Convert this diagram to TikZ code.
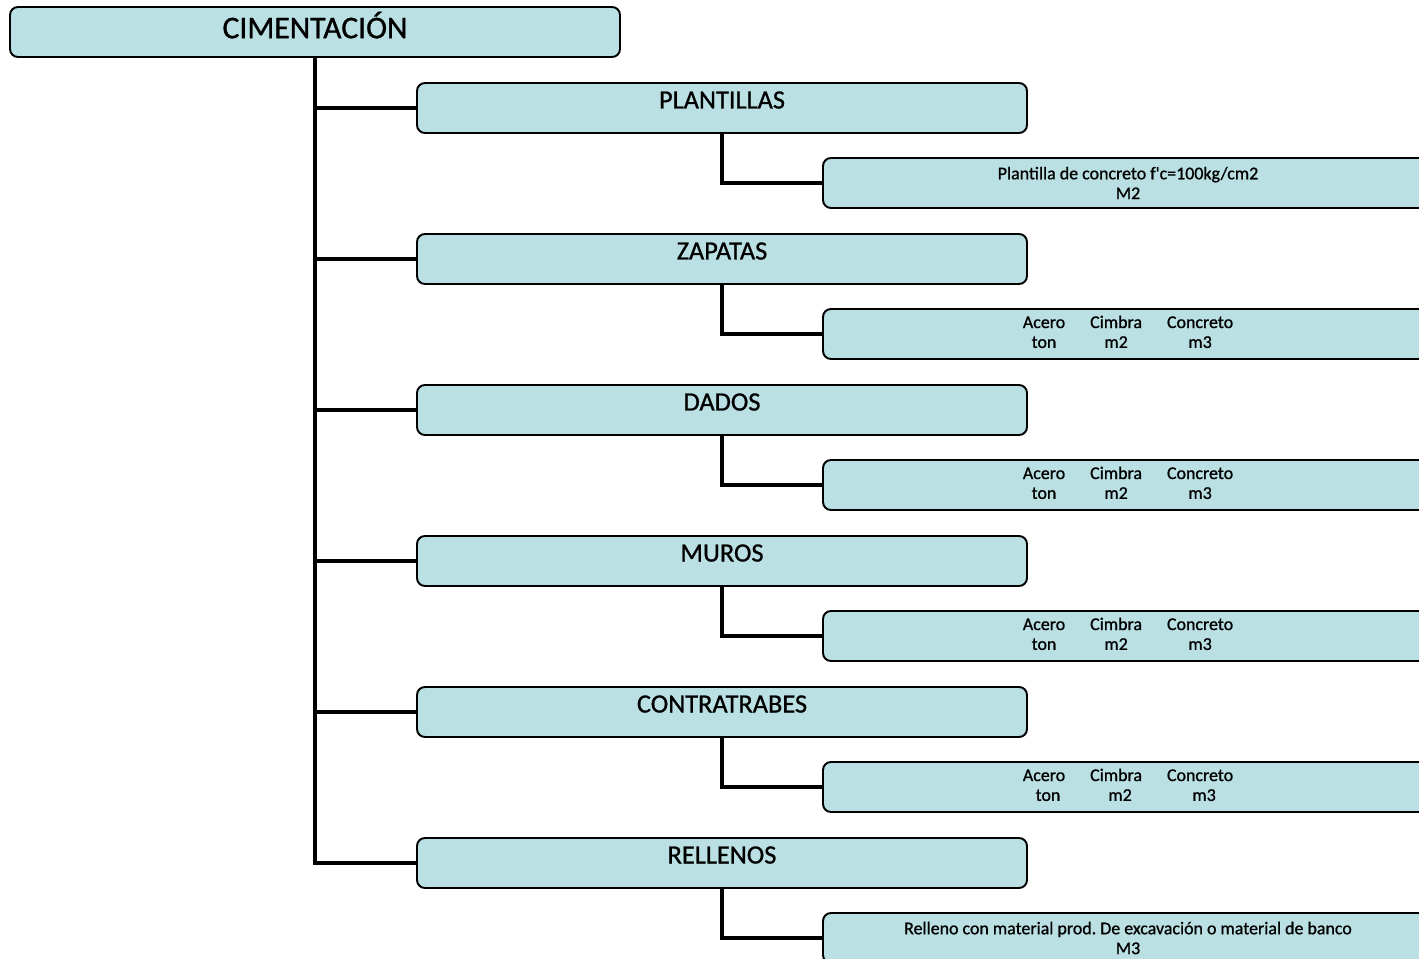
\documentclass[tikz,border=0pt]{standalone}
\usepackage{fontspec}
\setmainfont{Carlito}
\newfontfamily\boxfont[FakeBold=0.9]{Carlito}
\usepackage{xcolor}
\usepackage{tikz}
\definecolor{boxcolor}{HTML}{BAE0E3}
\frenchspacing

\tikzset{
  rootbox/.style={draw, rounded corners=0.16cm, line width=1.1pt, fill=boxcolor, minimum width=12.2cm, minimum height=1cm, text height=0.41cm, text depth=0.16cm, font=\boxfont\fontsize{18pt}{21pt}\selectfont},
  groupbox/.style={draw, rounded corners=0.16cm, line width=1.1pt, fill=boxcolor, minimum width=12.2cm, minimum height=1cm, text height=0.34cm, text depth=0.32cm, font=\boxfont\fontsize{15pt}{18pt}\selectfont},
  itembox/.style={draw, rounded corners=0.16cm, line width=1.1pt, fill=boxcolor, minimum width=12.2cm, minimum height=1cm, align=center, inner sep=0pt, font=\boxfont\fontsize{10.2pt}{11.3pt}\selectfont},
  link/.style={line width=2.8pt}
}
% acero / cimbra / concreto en tres columnas
\newcommand{\insumos}[1]{\begin{tabular}{@{}c@{\hspace{0.5cm}}c@{\hspace{0.5cm}}c@{}}Acero & Cimbra & Concreto\\ #1\end{tabular}}

\begin{document}
\begin{tikzpicture}%
\useasboundingbox (0,0) rectangle (28.38,-19.18);%
\node[rootbox] (root) at (6.30,-0.64) {CIMENTACIÓN};%
\node[groupbox] (g1) at (14.44,-2.16) {PLANTILLAS};%
\node[groupbox] (g2) at (14.44,-5.18) {ZAPATAS};%
\node[groupbox] (g3) at (14.44,-8.20) {DADOS};%
\node[groupbox] (g4) at (14.44,-11.22) {MUROS};%
\node[groupbox] (g5) at (14.44,-14.24) {CONTRATRABES};%
\node[groupbox] (g6) at (14.44,-17.26) {RELLENOS};%
\node[itembox] (i1) at (22.56,-3.66) {Plantilla de concreto f'c=100kg/cm2\\M2};%
\node[itembox] (i2) at (22.56,-6.68) {\insumos{ton & m2 & m3}};%
\node[itembox] (i3) at (22.56,-9.70) {\insumos{ton & m2 & m3}};%
\node[itembox] (i4) at (22.56,-12.72) {\insumos{ton & m2 & m3}};%
\node[itembox] (i5) at (22.56,-15.74) {\insumos{\hspace{0.16cm}ton & \hspace{0.16cm}m2 & \hspace{0.16cm}m3}};%
\node[itembox] (i6) at (22.56,-18.76) {Relleno con material prod. De excavación o material de banco\\M3};%
% elbow connectors
\draw[link] (root.south) |- (g1.west);%
\draw[link] (root.south) |- (g2.west);%
\draw[link] (root.south) |- (g3.west);%
\draw[link] (root.south) |- (g4.west);%
\draw[link] (root.south) |- (g5.west);%
\draw[link] (root.south) |- (g6.west);%
\draw[link] (g1.south) |- (i1.west);%
\draw[link] (g2.south) |- (i2.west);%
\draw[link] (g3.south) |- (i3.west);%
\draw[link] (g4.south) |- (i4.west);%
\draw[link] (g5.south) |- (i5.west);%
\draw[link] (g6.south) |- (i6.west);%
\end{tikzpicture}
\end{document}
